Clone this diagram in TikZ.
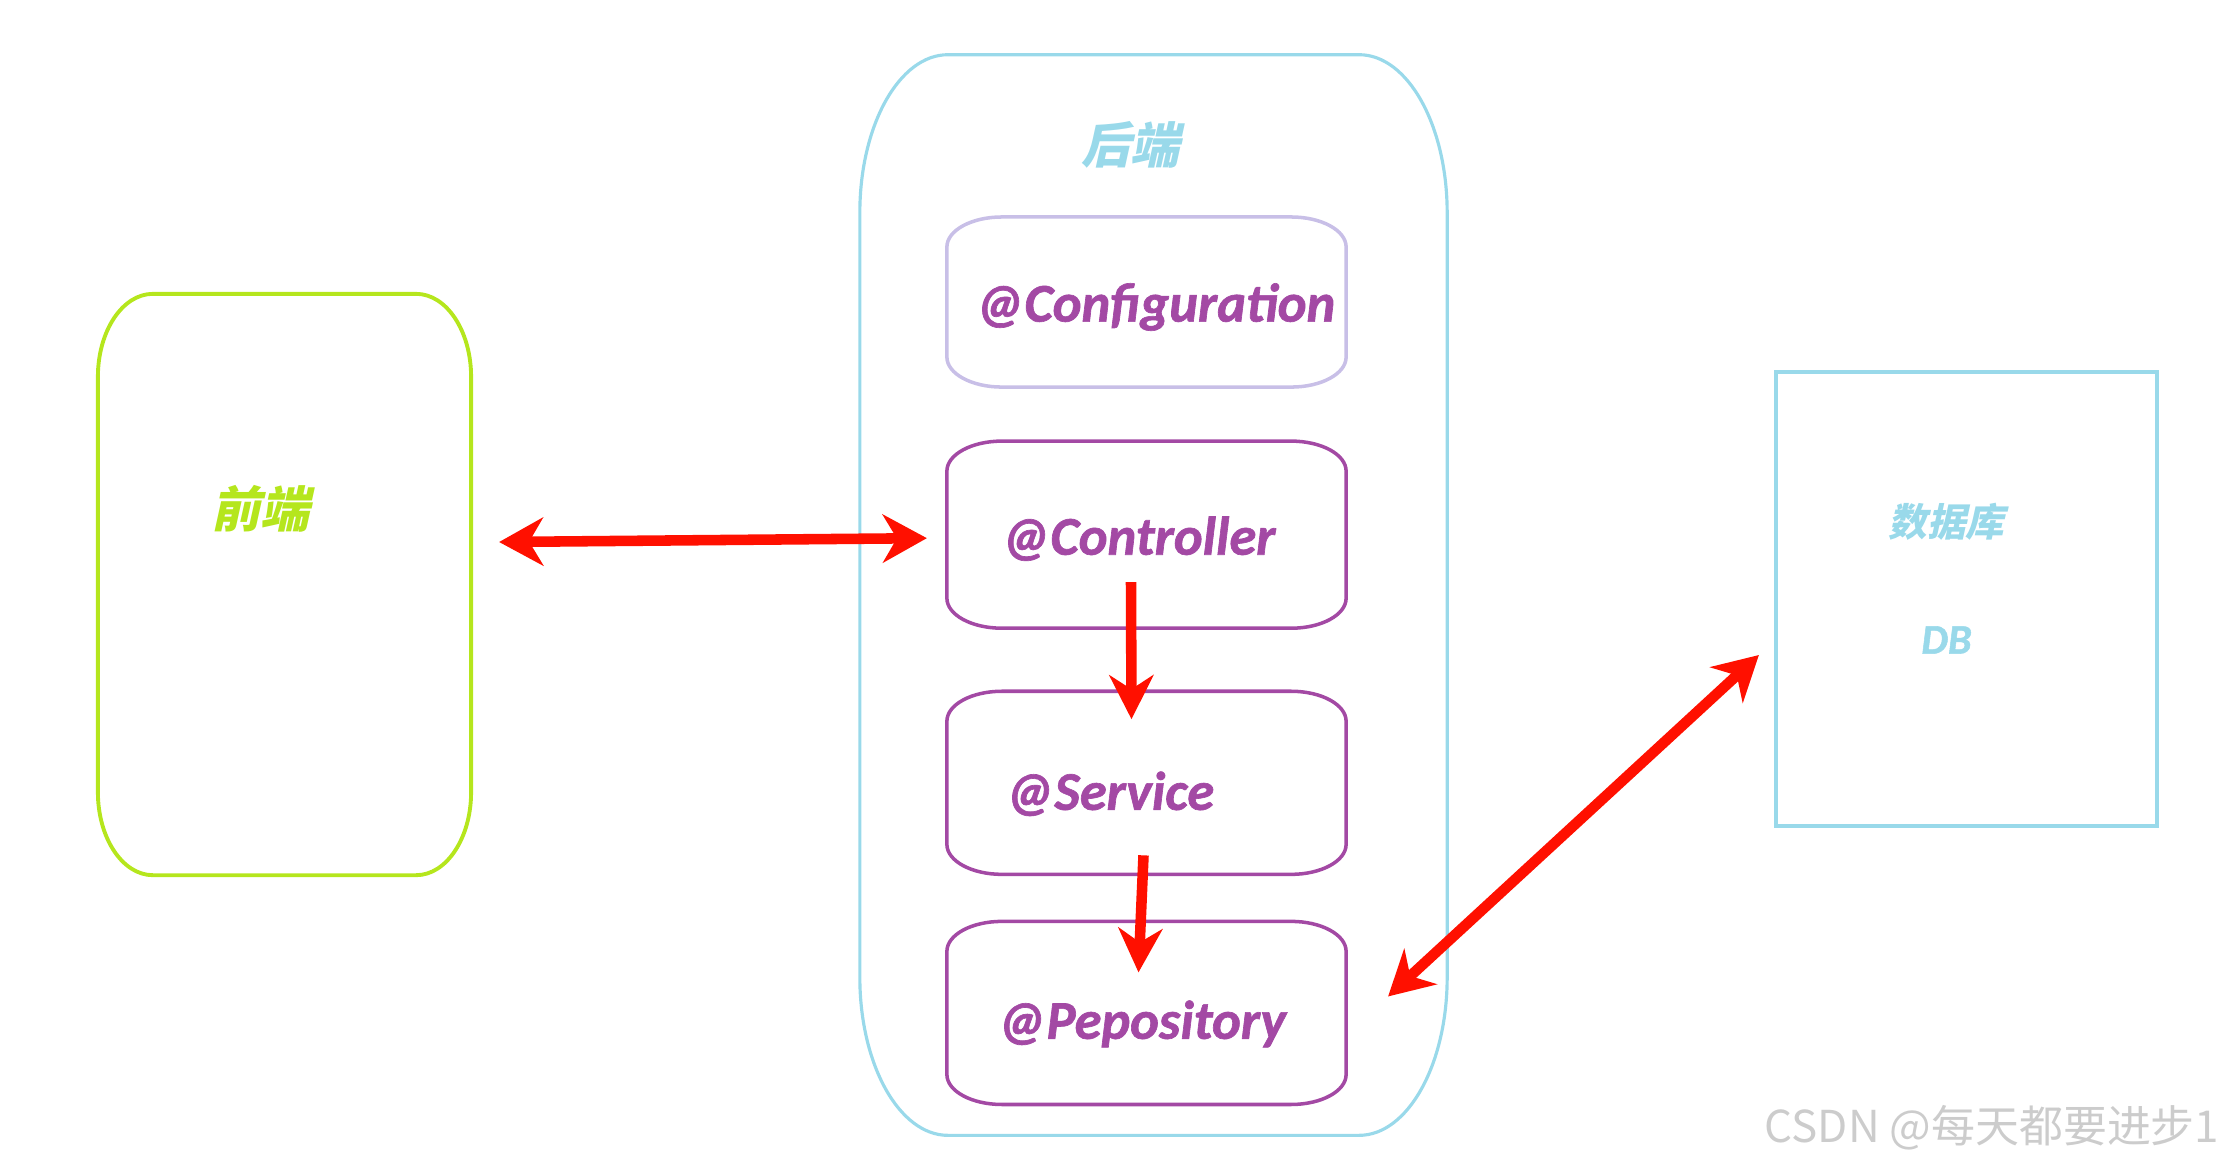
\documentclass[tikz,border=0pt]{standalone}
\usepackage{fontspec}
\usepackage{tikz}
\usetikzlibrary{arrows.meta,positioning}
\setmainfont{Carlito}[BoldItalicFeatures={FakeBold=1.2}]
\newfontfamily\cjk{Noto Sans CJK SC}
\newfontfamily\cjkslant[FakeSlant=0.22, BoldFeatures={FakeSlant=0.22}]{Noto Sans CJK SC}

\definecolor{limeg}{HTML}{B5E61D}
\definecolor{skyb}{HTML}{99D9EA}
\definecolor{lav}{HTML}{C8BFE7}
\definecolor{plum}{HTML}{A349A4}
\definecolor{arrred}{HTML}{FF1000}
\definecolor{wmgray}{HTML}{CCCCCC}

% frame with elliptic corners round a node: style, node, x radius, y radius
\newcommand\ovalframe[4]{%
  \draw[#1] ([yshift=-#4]#2.north west) -- ([yshift=#4]#2.south west)
    arc[start angle=180, end angle=270, x radius=#3, y radius=#4]
    -- ([xshift=-#3]#2.south east)
    arc[start angle=270, end angle=360, x radius=#3, y radius=#4]
    -- ([yshift=-#4]#2.north east)
    arc[start angle=0, end angle=90, x radius=#3, y radius=#4]
    -- ([xshift=#3]#2.north west)
    arc[start angle=90, end angle=180, x radius=#3, y radius=#4]
    -- cycle;}

\begin{document}
\begin{tikzpicture}[x=0.01cm, y=0.01cm,
        area/.style={inner sep=0pt, outer sep=0pt},
        layer/.style={area, minimum width=39.9mm, minimum height=18.3mm},
        anno/.style={font=\bfseries\itshape\fontsize{15.5}{18}\selectfont, text=plum, inner sep=0pt},
        zh/.style={font=\cjkslant\bfseries\fontsize{14}{16}\selectfont, inner sep=0pt},
        link/.style={{Stealth[length=4.4mm, width=4.8mm, inset=1.4mm]}-{Stealth[length=4.4mm, width=4.8mm, inset=1.4mm]}, line width=3pt, arrred},
        flow/.style={-{Stealth[length=4.4mm, width=4.4mm, inset=1.4mm]}, line width=3pt, arrred}
      ]
      \useasboundingbox (0,0) rectangle (2224,-1162);

      % frontend
      \node[area, minimum width=37.3mm, minimum height=58.1mm] (fe) at (284.5,-584.5) {};
      \ovalframe{limeg, line width=1.1pt}{fe}{5.5mm}{8.3mm}
      \node[zh, text=limeg] (fetxt) at ([shift={(-24,76)}]fe.center) {前端};

      % backend
      \node[area, minimum width=58.7mm, minimum height=108mm] (be) at (1153.5,-595) {};
      \ovalframe{skyb, line width=0.9pt}{be}{8.8mm}{15.8mm}
      \node[zh, text=skyb] (betxt) at ([shift={(-23,-90)}]be.north) {后端};

      \node[layer, minimum height=17mm] (cfg) at (1146.5,-302) {};
      \node[layer, minimum height=18.7mm, below=5.4mm of cfg] (ctrl) {};
      \node[layer, below=6.3mm of ctrl] (svc) {};
      \node[layer, below=4.7mm of svc] (repo) {};
      \ovalframe{lav, line width=1pt}{cfg}{5.5mm}{3mm}
      \foreach \n in {ctrl,svc,repo}{
        \ovalframe{plum, line width=1pt}{\n}{5.5mm}{3mm}
      }

      \node[anno, anchor=west] (cfgtxt) at ([shift={(28,-5)}]cfg.west) {@Configuration};
      \node[anno, anchor=west] (ctrltxt) at ([shift={(54,-4)}]ctrl.west) {@Controller};
      \node[anno, anchor=west] (svctxt) at ([shift={(58,-11)}]svc.west) {@Service};
      \node[anno, anchor=west] (repotxt) at ([shift={(50,-11)}]repo.west) {@Pepository};

      % database
      \node[area, draw=skyb, line width=1pt, minimum width=38.1mm, minimum height=45.4mm] (db) at (1966.5,-599) {};
      \node[zh, text=skyb, font=\cjkslant\bfseries\fontsize{11}{13}\selectfont] (dbzh) at ([shift={(-20,77)}]db.center) {数据库};
      \node[anno, text=skyb, font=\bfseries\itshape\fontsize{12}{14}\selectfont] (dben) at ([shift={(-20,-41)}]db.center) {DB};

      % connectors
      \draw[link] ([shift={(28,42.5)}]fe.east) -- ([shift={(-20,-3.5)}]ctrl.west);
      \draw[flow] ([shift={(-15.5,46)}]ctrl.south) -- ([shift={(-15,-28)}]svc.north);
      \draw[flow] ([shift={(-3,19)}]svc.south) -- ([shift={(-8,-51)}]repo.north);
      \draw[link] ([shift={(42,16.5)}]repo.east) -- ([shift={(-17,-56)}]db.west);

      \node[anchor=east, text=wmgray, font=\cjk\fontsize{12.5}{14}\selectfont, inner sep=0pt] (wm) at (2220,-1128) {CSDN @每天都要进步1};
    \end{tikzpicture}
\end{document}
